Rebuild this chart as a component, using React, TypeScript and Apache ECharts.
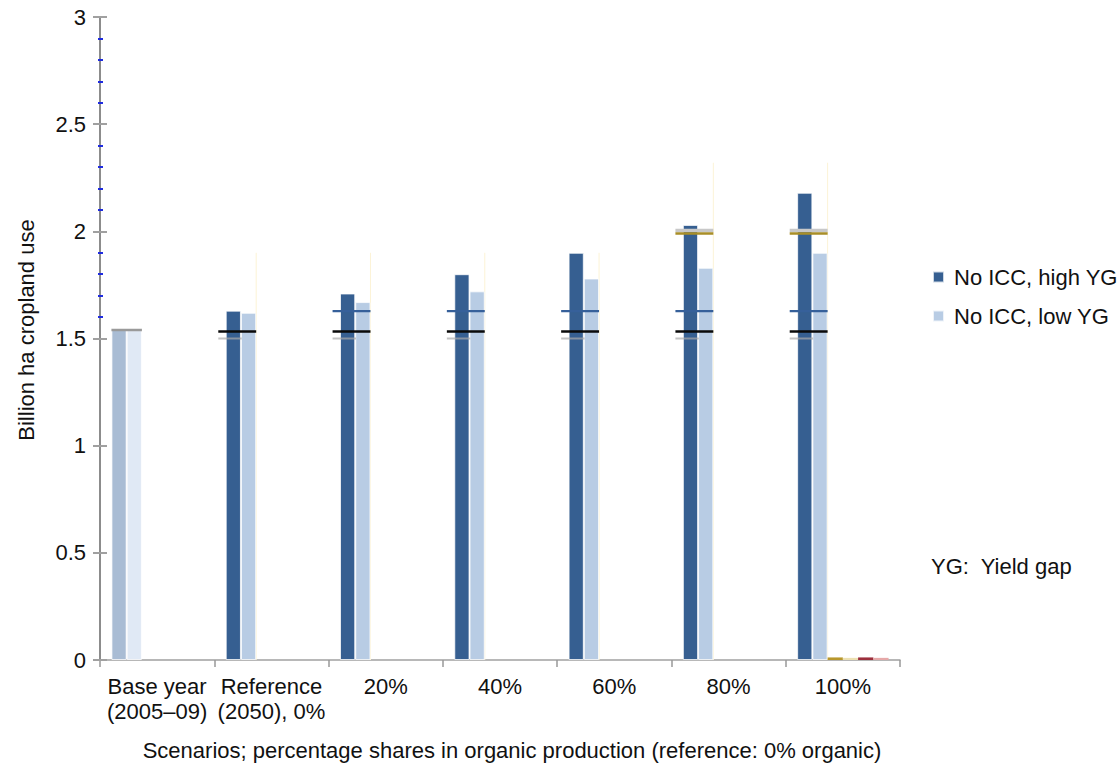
import React, { useEffect, useRef } from "react";
import * as echarts from "echarts";

const categories = ["Base year\n(2005–09)", "Reference\n(2050), 0%", "20%", "40%", "60%", "80%", "100%"];
const highYG = [1.54, 1.63, 1.71, 1.8, 1.9, 2.03, 2.18];
const lowYG = [1.54, 1.62, 1.67, 1.72, 1.78, 1.83, 1.9];
const extraGold = [0, 0, 0, 0, 0, 0, 0.012];
const extraPaleGold = [0, 0, 0, 0, 0, 0, 0.01];
const extraDarkRed = [0, 0, 0, 0, 0, 0, 0.012];
const extraPink = [0, 0, 0, 0, 0, 0, 0.01];

const blackMarker = [null, 1.533, 1.533, 1.533, 1.533, 1.533, 1.533];
const blueMarker = [null, null, 1.628, 1.628, 1.628, 1.628, 1.628];
const goldMarker = [null, null, null, null, null, 1.99, 1.99];
const grayUpperMarker = [null, null, null, null, null, 2.004, 2.004];
const grayLowerMarker = [null, 1.5, 1.5, 1.5, 1.5, 1.5, 1.5];
const baseTopMarker = [1.54, null, null, null, null, null, null];
const whiskerTop = [null, 1.9, 1.9, 1.9, 1.9, 2.32, 2.32];

const yMinorTicks = [1.6, 1.7, 1.8, 1.9, 2.1, 2.2, 2.3, 2.4, 2.6, 2.7, 2.8, 2.9];

const FONT = "'Liberation Sans', Arial, Helvetica, sans-serif";

function toPoints(arr: (number | null)[]) {
  return arr
    .map((v, i) => (v == null ? null : [i, v]))
    .filter((d) => d !== null) as number[][];
}

function hMarker(name: string, arr: (number | null)[], color: string, thick: number, f0: number, f1: number, z: number) {
  return {
    type: "custom",
    name,
    silent: true,
    z,
    data: toPoints(arr),
    renderItem: (params: any, api: any) => {
      const c = api.coord([api.value(0), api.value(1)]);
      const bw = api.size([1, 0])[0];
      const left = c[0] - bw / 2;
      return {
        type: "rect",
        shape: { x: left + bw * f0, y: c[1] - thick / 2, width: bw * (f1 - f0), height: thick },
        style: { fill: color },
      };
    },
  };
}

function vWhisker(name: string, arr: (number | null)[], color: string, f: number) {
  return {
    type: "custom",
    name,
    silent: true,
    z: 1,
    data: toPoints(arr),
    renderItem: (params: any, api: any) => {
      const top = api.coord([api.value(0), api.value(1)]);
      const bottom = api.coord([api.value(0), 0]);
      const bw = api.size([1, 0])[0];
      const x = top[0] - bw / 2 + bw * f;
      return {
        type: "line",
        shape: { x1: x, y1: top[1], x2: x, y2: bottom[1] },
        style: { stroke: color, lineWidth: 1 },
      };
    },
  };
}

export default function App() {
  const ref = useRef<HTMLDivElement>(null);

  useEffect(() => {
    if (!ref.current) return;
    const chart = echarts.init(ref.current, undefined, { renderer: "svg" });
    const barBorder = { borderColor: "rgba(255,255,255,0.75)", borderWidth: 1 };
    const option: any = {
      animation: false,
      backgroundColor: "#ffffff",
      textStyle: { fontFamily: FONT, color: "#111" },
      grid: { left: 100, right: 220, top: 17, bottom: 107, containLabel: false },
      legend: {
        orient: "vertical",
        left: 927,
        top: 261,
        itemWidth: 11,
        itemHeight: 11,
        itemGap: 17,
        icon: "rect",
        data: ["No ICC, high YG", "No ICC, low YG"],
        textStyle: { fontSize: 22, color: "#111", fontFamily: FONT, padding: [0, 0, 0, 5] },
        selectedMode: false,
      },
      xAxis: {
        type: "category",
        data: categories,
        boundaryGap: true,
        axisLine: { lineStyle: { color: "#a0a0a0", width: 1.5 } },
        axisTick: { show: true, length: 7, lineStyle: { color: "#999", width: 1.5 } },
        axisLabel: { fontSize: 22, lineHeight: 25, margin: 14, color: "#111", fontFamily: FONT, interval: 0 },
        splitLine: { show: false },
      },
      yAxis: [
        {
          type: "value",
          position: "left",
          min: 0,
          max: 3,
          interval: 0.5,
          axisLine: { show: true, lineStyle: { color: "#8c8c8c", width: 2 } },
          axisTick: { show: true, length: 7, lineStyle: { color: "#a0a0a0", width: 2 } },
          axisLabel: { fontSize: 22, margin: 14, color: "#111", fontFamily: FONT },
          splitLine: { show: false },
          z: 5,
        },
        {
          type: "value",
          position: "left",
          min: 0,
          max: 3,
          interval: 0.5,
          axisLine: { show: false },
          axisTick: { show: true, inside: true, length: 7, lineStyle: { color: "#a0a0a0", width: 2 } },
          axisLabel: { show: false },
          splitLine: { show: false },
          z: 6,
        },
        {
          type: "value",
          position: "left",
          min: 0,
          max: 3,
          offset: 2,
          axisLine: { show: false },
          axisTick: {
            show: true,
            inside: true,
            length: 5,
            customValues: yMinorTicks,
            lineStyle: { color: "#1f2bdf", width: 2 },
          },
          axisLabel: { show: false },
          splitLine: { show: false },
          z: 7,
        },
      ],
      graphic: [
        {
          type: "text",
          x: 26,
          y: 330,
          rotation: Math.PI / 2,
          style: {
            text: "Billion ha cropland use",
            align: "center",
            verticalAlign: "middle",
            fontSize: 22,
            fontFamily: FONT,
            fill: "#111",
          },
        },
        {
          type: "text",
          x: 512,
          y: 750,
          style: {
            text: "Scenarios; percentage shares in organic production (reference: 0% organic)",
            align: "center",
            verticalAlign: "middle",
            fontSize: 22,
            fontFamily: FONT,
            fill: "#111",
          },
        },
        {
          type: "text",
          x: 931,
          y: 566,
          style: {
            text: "YG:  Yield gap",
            align: "left",
            verticalAlign: "middle",
            fontSize: 22,
            fontFamily: FONT,
            fill: "#111",
          },
        },
      ],
      series: [
        {
          type: "bar",
          name: "No ICC, high YG",
          barGap: "0%",
          barCategoryGap: "20%",
          itemStyle: { color: "#365f91", ...barBorder },
          data: highYG.map((v, i) => (i === 0 ? { value: v, itemStyle: { color: "#a9bcd4" } } : v)),
          z: 2,
        },
        {
          type: "bar",
          name: "No ICC, low YG",
          itemStyle: { color: "#b8cce4", ...barBorder },
          data: lowYG.map((v, i) => (i === 0 ? { value: v, itemStyle: { color: "#e0e9f5" } } : v)),
          z: 2,
        },
        { type: "bar", name: "gold", itemStyle: { color: "#b8972c" }, data: extraGold, z: 2 },
        { type: "bar", name: "paleGold", itemStyle: { color: "#ece0b2" }, data: extraPaleGold, z: 2 },
        { type: "bar", name: "darkRed", itemStyle: { color: "#9c2f3c" }, data: extraDarkRed, z: 2 },
        { type: "bar", name: "pink", itemStyle: { color: "#e6a8a8" }, data: extraPink, z: 2 },
        vWhisker("whisker", whiskerTop, "#fcf3d6", 0.3667),
        hMarker("grayLower", grayLowerMarker, "rgba(170,170,170,0.7)", 2, 0.035, 0.24, 3),
        hMarker("baseTop", baseTopMarker, "#9a9a9a", 2.5, 0.1, 0.3667, 3),
        hMarker("black", blackMarker, "#0a0a0a", 2.6, 0.035, 0.3667, 4),
        hMarker("blue", blueMarker, "#36609a", 2.2, 0.035, 0.3667, 4),
        hMarker("grayUpper", grayUpperMarker, "#c8c8c8", 3.5, 0.035, 0.3667, 4),
        hMarker("goldLine", goldMarker, "#a88e27", 2.6, 0.035, 0.3667, 5),
      ],
    };
    chart.setOption(option);
    return () => chart.dispose();
  }, []);

  return (
    <div
      ref={ref}
      style={{ position: "absolute", left: 0, top: 0, width: 1120, height: 767, background: "#fff" }}
    />
  );
}
